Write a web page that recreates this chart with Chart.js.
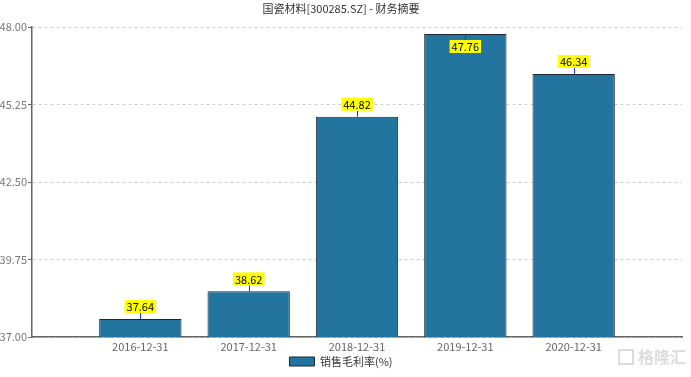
<!DOCTYPE html>
<html>
<head>
<meta charset="utf-8">
<script src="https://cdn.jsdelivr.net/npm/chart.js@4.4.0/dist/chart.umd.min.js"></script>
<style>
  body { margin: 0; background: #fff; }
  #wrap { position: relative; width: 691px; height: 377px; }
</style>
</head>
<body>
<div id="wrap"><canvas id="reportChart" width="691" height="377"></canvas></div>
<script>
const chartTitle = "国瓷材料[300285.SZ] - 财务摘要";
const seriesName = "销售毛利率(%)";
const periods = ["2016-12-31", "2017-12-31", "2018-12-31", "2019-12-31", "2020-12-31"];
const grossMargin = [37.64, 38.62, 44.82, 47.76, 46.34];
const yTicks = [37.00, 39.75, 42.50, 45.25, 48.00];

// empty slots at both ends so the bars sit one step in from the axis ends
const labels = [""].concat(periods, [""]);
const values = [null].concat(grossMargin, [null]);

const FONT = "'Noto Sans CJK SC', 'DejaVu Sans', sans-serif";

const valueLabels = {
  id: "valueLabels",
  afterDatasetsDraw(chart) {
    const ctx = chart.ctx;
    const meta = chart.getDatasetMeta(0);
    const top = chart.chartArea.top;
    ctx.save();
    ctx.font = "11px " + FONT;
    ctx.textAlign = "center";
    ctx.textBaseline = "middle";
    meta.data.forEach((bar, i) => {
      const v = values[i];
      if (v == null) return;
      const txt = v.toFixed(2);
      const w = ctx.measureText(txt).width + 4;
      const h = 13;
      let boxY = bar.y - 6 - h;
      let lineTo = bar.y - 6;
      if (boxY < top) {
        boxY = bar.y + 6;
        lineTo = bar.y + 6;
      }
      ctx.strokeStyle = "#2233ee";
      ctx.lineWidth = 1;
      ctx.beginPath();
      ctx.moveTo(Math.round(bar.x) + 0.5, bar.y);
      ctx.lineTo(Math.round(bar.x) + 0.5, lineTo);
      ctx.stroke();
      ctx.fillStyle = "#ffff00";
      ctx.fillRect(bar.x - w / 2, boxY, w, h);
      ctx.fillStyle = "#000";
      ctx.fillText(txt, bar.x, boxY + h / 2 + 0.5);
    });
    ctx.restore();
  }
};

const watermark = {
  id: "watermark",
  afterDraw(chart) {
    const ctx = chart.ctx;
    ctx.save();
    ctx.font = "bold 16px " + FONT;
    ctx.fillStyle = "rgba(205,205,205,0.7)";
    ctx.textAlign = "left";
    ctx.textBaseline = "middle";
    ctx.strokeStyle = "rgba(205,205,205,0.7)";
    ctx.lineWidth = 2;
    ctx.strokeRect(619, 350, 14, 14);
    ctx.fillText("格隆汇", 638, 357);
    ctx.restore();
  }
};

new Chart(document.getElementById("reportChart").getContext("2d"), {
  type: "bar",
  data: {
    labels: labels,
    datasets: [{
      label: seriesName,
      data: values,
      backgroundColor: "#23759f",
      borderColor: "#1b2733",
      borderWidth: 1,
      borderSkipped: false,
      barPercentage: 0.76,
      categoryPercentage: 1
    }]
  },
  options: {
    responsive: false,
    animation: false,
    layout: { padding: { left: 0, right: 9, top: 0, bottom: 0 } },
    plugins: {
      title: {
        display: true,
        text: chartTitle,
        color: "#333",
        font: { family: FONT, size: 11, weight: "normal" },
        padding: { top: 2, bottom: 12 }
      },
      legend: {
        display: true,
        position: "bottom",
        labels: {
          color: "#333",
          font: { family: FONT, size: 11 },
          boxWidth: 25,
          boxHeight: 9,
          padding: 4
        }
      },
      tooltip: { enabled: false }
    },
    scales: {
      x: {
        offset: false,
        afterFit(scale) { scale.height = 15; },
        grid: { display: false, drawTicks: false, tickLength: 0 },
        border: { display: true, color: "#666", width: 1.5 },
        ticks: { color: "#666", font: { family: FONT, size: 11 }, maxRotation: 0, autoSkip: false, padding: 3 }
      },
      y: {
        min: 37,
        max: 48,
        afterFit(scale) { scale.width = 32; },
        afterBuildTicks(scale) { scale.ticks = yTicks.map(v => ({ value: v })); },
        grid: {
          color: "#ccc",
          drawTicks: true,
          tickLength: 4,
          tickColor: "#666",
          tickBorderDash: []
        },
        border: { display: true, color: "#666", width: 1.5, dash: [3, 3] },
        ticks: {
          color: "#777",
          font: { family: FONT, size: 11 },
          padding: 1,
          callback: v => Number(v).toFixed(2)
        }
      }
    }
  },
  plugins: [valueLabels, watermark]
});
</script>
</body>
</html>
